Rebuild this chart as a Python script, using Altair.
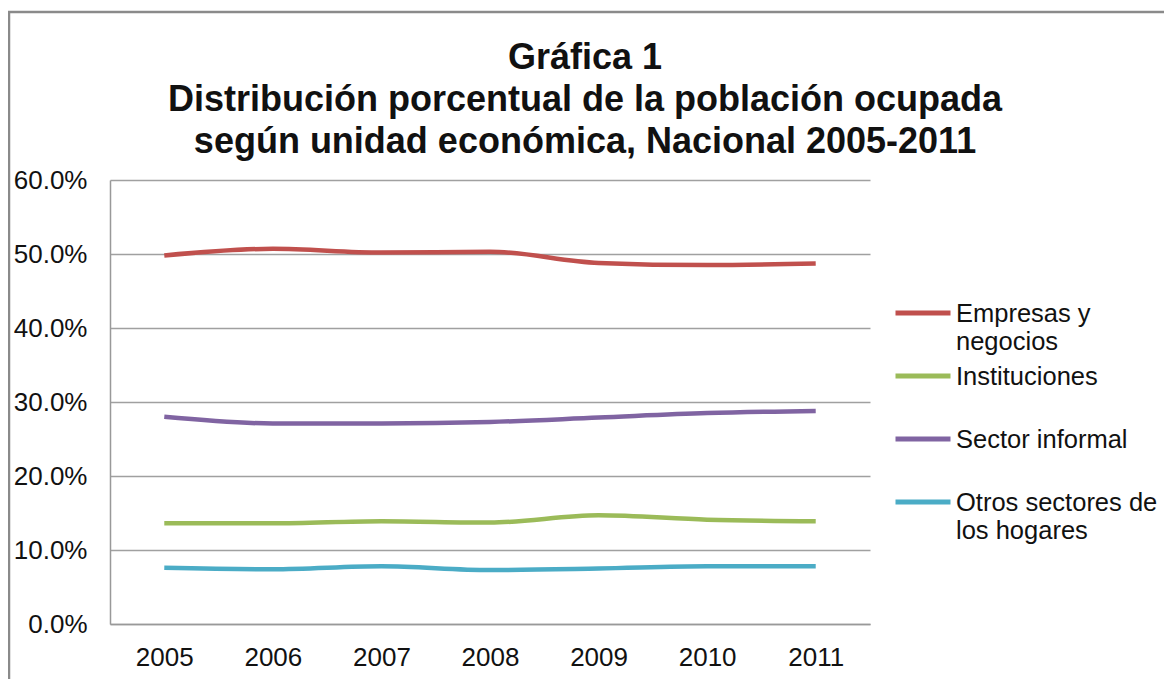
import altair as alt
import pandas as pd

years = ["2005", "2006", "2007", "2008", "2009", "2010", "2011"]
series_names = ["Empresas y negocios", "Instituciones", "Sector informal", "Otros sectores de los hogares"]
empresas = [49.8, 50.7, 50.2, 50.3, 48.8, 48.5, 48.7]
instituciones = [13.6, 13.6, 13.9, 13.7, 14.7, 14.1, 13.9]
informal = [28.0, 27.1, 27.1, 27.3, 27.9, 28.5, 28.8]
hogares = [7.6, 7.4, 7.8, 7.3, 7.5, 7.8, 7.8]
colors = ["#C0504D", "#9BBB59", "#8064A2", "#4BACC6"]

rows = []
for name, vals in zip(series_names, [empresas, instituciones, informal, hogares]):
    for y, v in zip(years, vals):
        rows.append({"Año": y, "Serie": name, "Valor": v / 100})
df = pd.DataFrame(rows)

font = "Liberation Sans"

label_expr = ("datum.label == 'Empresas y negocios' ? ['Empresas y', 'negocios'] : "
              "datum.label == 'Otros sectores de los hogares' ? ['Otros sectores de', 'los hogares'] : "
              "datum.label")

lines = alt.Chart(df).mark_line(strokeWidth=4.5, interpolate="monotone").encode(
    x=alt.X("Año:O", scale=alt.Scale(type="point", padding=0.5),
            axis=alt.Axis(title=None, labelAngle=0, labelFontSize=26, labelFont=font,
                          labelColor="#111", ticks=False, domainColor="#999",
                          domainWidth=1.5, labelPadding=20, grid=False)),
    y=alt.Y("Valor:Q", scale=alt.Scale(domain=[0, 0.6]),
            axis=alt.Axis(title=None, format=".1%", values=[0, 0.1, 0.2, 0.3, 0.4, 0.5, 0.6],
                          labelFontSize=26, labelFont=font, labelColor="#111",
                          ticks=False, domainColor="#999", domainWidth=1.5,
                          gridColor="#a0a0a0", gridWidth=1.5, labelPadding=23)),
    color=alt.Color("Serie:N", scale=alt.Scale(domain=series_names, range=colors),
                    legend=alt.Legend(title=None, orient="none", legendX=783, legendY=112,
                                      symbolType="M-1,-0.33L1,-0.33", symbolSize=3025,
                                      symbolStrokeWidth=5,
                                      labelFontSize=25.5, labelFont=font, labelColor="#111",
                                      labelOffset=3, rowPadding=0, labelLimit=400,
                                      gridAlign="all", labelBaseline="alphabetic",
                                      labelExpr=label_expr)),
)

frame = alt.Chart(pd.DataFrame({"f": [0]})).mark_rect(
    filled=False, stroke="#8a8a8a", strokeWidth=2.5
).encode(x=alt.value(-101), x2=alt.value(1200), y=alt.value(-168), y2=alt.value(700))

chart = alt.layer(frame, lines).properties(
    width=760, height=444,
    padding={"left": 102, "top": 172, "right": 294, "bottom": 55},
    autosize=alt.AutoSizeParams(type="none"),
    title=alt.TitleParams(
        text=["Gráfica 1", "Distribución porcentual de la población ocupada",
              "según unidad económica, Nacional 2005-2011"],
        fontSize=36, font=font, fontWeight="bold", color="#111", lineHeight=42,
        anchor="middle", frame="group", dx=95, offset=-150),
).configure_view(stroke=None)

chart.save("out.html", embed_options={"renderer": "svg", "actions": False})
